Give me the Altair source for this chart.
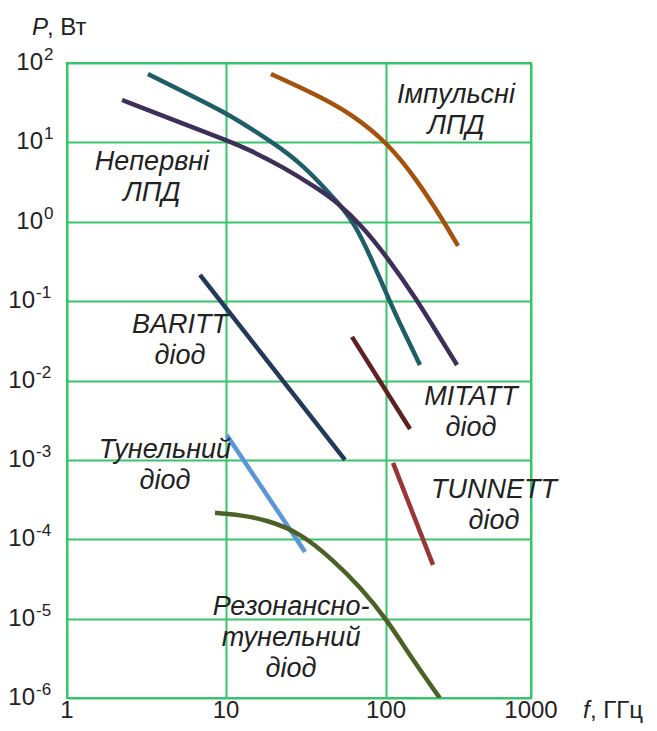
import altair as alt
import pandas as pd

# ---------------- data ----------------
cw_teal_f = [3.23, 5.94, 10, 14.1, 20.2, 29.0, 38.7, 50.1, 62.2, 79.4, 104.9, 133, 171.5]
cw_teal_p = [72.7, 39.5, 23.4, 15.2, 9.55, 5.51, 3.08, 1.73, 1.02, 0.381, 0.1032, 0.0408, 0.0157]

cw_purple_f = [2.22, 4.71, 10, 14.1, 22.7, 37.0, 50.1, 71.8, 101.6, 163.6, 225, 309]
cw_purple_p = [34.2, 19.1, 10.7, 8.02, 4.90, 2.66, 1.73, 0.860, 0.360, 0.1035, 0.0398, 0.0157]

pulsed_f = [19.1, 37.0, 59.6, 101.6, 163.6, 247, 314]
pulsed_p = [72.7, 39.5, 23.4, 10.1, 3.36, 1.05, 0.496]

baritt_f = [6.86, 55.4]
baritt_p = [0.214, 0.001]

tunnel_f = [10.1, 31.2]
tunnel_p = [0.00206, 6.93e-5]

rtd_f = [8.53, 12.2, 18.0, 29.0, 46.6, 68.8, 101.6, 153, 235]
rtd_p = [2.15e-4, 2.03e-4, 1.75e-4, 1.21e-4, 5.5e-5, 2.52e-5, 9.7e-6, 3.03e-6, 1.0e-6]

mitatt_f = [61.3, 146.5]
mitatt_p = [0.0354, 0.00245]

tunnett_f = [111.8, 211]
tunnett_p = [9.16e-4, 4.76e-5]

series_names = ["cw_teal", "cw_purple", "pulsed", "baritt", "tunnel", "rtd", "mitatt", "tunnett"]
series_colors = ["#1f5e69", "#3e2f58", "#a5520c", "#22395a", "#5b96d8", "#4d6127", "#5e2020", "#9a3535"]

label_texts = ["Непервні\nЛПД", "Імпульсні\nЛПД", "BARITT\nдіод", "MITATT\nдіод",
               "Тунельний\nдіод", "TUNNETT\nдіод", "Резонансно-\nтунельний\nдіод"]
label_f = [3.42, 304, 5.14, 385, 4.13, 556, 25.5]
label_p = [5.66, 39.5, 0.050, 0.0062, 0.00133, 4.18e-4, 1.40e-5]

x_ticks = [1, 10, 100, 1000]
x_tick_labels = ["1", "10", "100", "1000"]
y_exps = [2, 1, 0, -1, -2, -3, -4, -5, -6]

# ---------------- build tables ----------------
all_series = [
    (cw_teal_f, cw_teal_p), (cw_purple_f, cw_purple_p), (pulsed_f, pulsed_p),
    (baritt_f, baritt_p), (tunnel_f, tunnel_p), (rtd_f, rtd_p),
    (mitatt_f, mitatt_p), (tunnett_f, tunnett_p),
]
rows = []
for name, (fs, ps) in zip(series_names, all_series):
    for i, (f, p) in enumerate(zip(fs, ps)):
        rows.append({"series": name, "f": f, "P": p, "i": i})
lines_df = pd.DataFrame(rows)

labels_df = pd.DataFrame({"text": label_texts, "f": label_f, "P": label_p})
xt_df = pd.DataFrame({"f": x_ticks, "lab": x_tick_labels})
yt_df = pd.DataFrame({"P": [10.0 ** e for e in y_exps], "exp": [str(e) for e in y_exps], "e": y_exps})
one_df = pd.DataFrame({"k": [0]})

GREEN = "#38c46b"
TXT = "#222222"
FONT = "Liberation Sans"

xscale = alt.Scale(type="log", domain=[1, 10, 100, 1000], range=[0, 159, 319, 464], nice=False)
yscale = alt.Scale(type="log", domain=[1e-6, 1e2], nice=False)

xaxis = alt.Axis(values=x_ticks, grid=True, gridColor=GREEN, gridWidth=2, gridOpacity=1,
                 labels=False, ticks=False, domain=False, title=None)
yaxis = alt.Axis(values=[10.0 ** e for e in y_exps], grid=True, gridColor=GREEN, gridWidth=2,
                 gridOpacity=1, labels=False, ticks=False, domain=False, title=None)

lines = alt.Chart(lines_df).mark_line(strokeWidth=4.5, interpolate="basis", clip=True, strokeCap="butt").encode(
    x=alt.X("f:Q", scale=xscale, axis=xaxis),
    y=alt.Y("P:Q", scale=yscale, axis=yaxis),
    color=alt.Color("series:N", scale=alt.Scale(domain=series_names, range=series_colors), legend=None),
    detail="series:N",
    order="i:Q",
)

labels = alt.Chart(labels_df).mark_text(
    font=FONT, fontStyle="italic", fontSize=27, lineHeight=31, lineBreak="\n",
    align="center", baseline="middle", color=TXT,
).encode(x=alt.X("f:Q", scale=xscale), y=alt.Y("P:Q", scale=yscale), text="text:N")

xt = alt.Chart(xt_df).mark_text(font=FONT, fontSize=24, align="center", baseline="middle", color=TXT).encode(
    x=alt.X("f:Q", scale=xscale), y=alt.value(648), text="lab:N"
)

ytp_base = alt.Chart(yt_df).transform_filter("datum.e >= 0").mark_text(
    font=FONT, fontSize=24, align="right", baseline="middle", color=TXT
).encode(x=alt.value(-24), y=alt.Y("P:Q", scale=yscale), text=alt.value("10"))
ytp_exp = alt.Chart(yt_df).transform_filter("datum.e >= 0").mark_text(
    font=FONT, fontSize=17, align="left", baseline="middle", color=TXT, dy=-8
).encode(x=alt.value(-23), y=alt.Y("P:Q", scale=yscale), text="exp:N")
ytn_base = alt.Chart(yt_df).transform_filter("datum.e < 0").mark_text(
    font=FONT, fontSize=24, align="right", baseline="middle", color=TXT
).encode(x=alt.value(-32), y=alt.Y("P:Q", scale=yscale), text=alt.value("10"))
ytn_exp = alt.Chart(yt_df).transform_filter("datum.e < 0").mark_text(
    font=FONT, fontSize=17, align="left", baseline="middle", color=TXT, dy=-8
).encode(x=alt.value(-31), y=alt.Y("P:Q", scale=yscale), text="exp:N")

ytitle_a = alt.Chart(one_df).mark_text(font=FONT, fontSize=24, fontStyle="italic", align="left",
                                       baseline="middle", color=TXT).encode(
    x=alt.value(-35), y=alt.value(-35), text=alt.value("P"))
ytitle_b = alt.Chart(one_df).mark_text(font=FONT, fontSize=24, align="left",
                                       baseline="middle", color=TXT).encode(
    x=alt.value(-20), y=alt.value(-35), text=alt.value(", Вт"))
xtitle_a = alt.Chart(one_df).mark_text(font=FONT, fontSize=24, fontStyle="italic", align="left",
                                       baseline="middle", color=TXT).encode(
    x=alt.value(516), y=alt.value(648), text=alt.value("f"))
xtitle_b = alt.Chart(one_df).mark_text(font=FONT, fontSize=24, align="left",
                                       baseline="middle", color=TXT).encode(
    x=alt.value(523), y=alt.value(648), text=alt.value(", ГГц"))

chart = alt.layer(
    lines, labels, xt, ytp_base, ytp_exp, ytn_base, ytn_exp,
    ytitle_a, ytitle_b, xtitle_a, xtitle_b,
).properties(
    width=464, height=635,
    autosize=alt.AutoSizeParams(type="none"),
    padding={"left": 59, "top": 55, "right": 118, "bottom": 25},
).configure_view(stroke=GREEN, strokeWidth=2)

chart.save("out.html", embed_options={"renderer": "svg", "actions": False})
